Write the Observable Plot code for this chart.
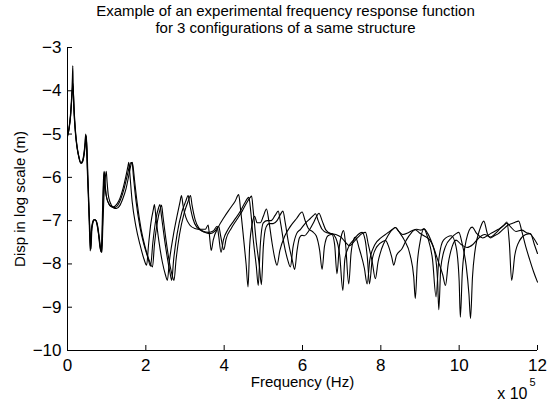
<!DOCTYPE html>
<html><head><meta charset="utf-8">
<script src="https://cdn.jsdelivr.net/npm/d3@7"></script>
<script src="https://cdn.jsdelivr.net/npm/@observablehq/plot@0.6"></script>
<style>body{margin:0;background:#fff;}</style>
</head><body><div id="chart"></div>
<script>
const titleLine1 = "Example of an experimental frequency response function";
const titleLine2 = "for 3 configurations of a same structure";
const xLabel = "Frequency (Hz)";
const yLabel = "Disp in log scale (m)";
const xMultiplier = "x 10";
const xExponent = "5";
const xTicks = [0, 2, 4, 6, 8, 10, 12];
const yTicks = [-10, -9, -8, -7, -6, -5, -4, -3];

// frequency in units of 10^5 Hz, displacement as log10 (m)
const freqA = [0.00,0.04,0.08,0.11,0.125,0.135,0.145,0.16,0.19,0.23,0.28,0.33,0.37,0.41,0.44,0.465,0.48,0.50,0.53,0.56,0.58,0.60,0.63,0.67,0.71,0.75,0.79,0.83,0.86,0.88,0.90,0.92,0.935,0.95,0.98,1.03,1.10,1.18,1.26,1.34,1.42,1.49,1.54,1.565,1.59,1.65,1.75,1.85,1.95,2.02,2.07,2.13,2.19,2.22,2.26,2.33,2.42,2.50,2.55,2.60,2.70,2.80,2.87,2.91,2.95,3.02,3.12,3.25,3.40,3.52,3.59,3.62,3.67,3.72,3.85,4.00,4.15,4.28,4.37,4.42,4.50,4.56,4.61,4.65,4.72,4.78,4.84,4.92,5.00,5.08,5.14,5.22,5.30,5.35,5.42,5.55,5.70,5.85,5.99,6.06,6.15,6.25,6.35,6.44,6.50,6.56,6.65,6.75,6.82,6.88,6.94,7.00,7.05,7.10,7.18,7.24,7.30,7.35,7.45,7.58,7.65,7.72,7.85,8.00,8.15,8.30,8.37,8.48,8.60,8.75,8.84,8.88,8.93,9.00,9.10,9.20,9.32,9.41,9.48,9.60,9.80,9.92,10.00,10.03,10.08,10.18,10.33,10.45,10.60,10.80,11.00,11.15,11.22,11.28,11.34,11.42,11.55,11.70,11.82,11.92,12.00];
const dispA = [-5.02,-4.85,-4.50,-4.05,-3.70,-3.42,-3.85,-4.35,-4.85,-5.22,-5.50,-5.66,-5.64,-5.50,-5.28,-5.00,-5.15,-5.70,-6.40,-7.20,-7.70,-7.30,-7.08,-6.98,-6.98,-7.08,-7.30,-7.62,-7.72,-7.30,-6.55,-6.02,-5.86,-6.10,-6.38,-6.56,-6.66,-6.68,-6.62,-6.48,-6.25,-5.98,-5.76,-5.65,-5.90,-6.55,-7.15,-7.55,-7.88,-8.03,-7.55,-7.05,-6.75,-6.63,-6.95,-7.45,-7.95,-8.25,-8.38,-7.95,-7.35,-6.88,-6.58,-6.42,-6.65,-6.92,-7.10,-7.18,-7.20,-7.20,-7.10,-7.30,-7.69,-7.45,-7.15,-6.92,-6.72,-6.55,-6.40,-6.75,-7.45,-8.00,-8.53,-7.60,-7.05,-6.90,-7.05,-7.05,-6.90,-6.73,-7.00,-7.50,-7.90,-8.03,-7.70,-7.35,-7.12,-6.95,-6.80,-6.98,-7.18,-7.25,-7.35,-7.70,-8.13,-7.60,-7.35,-7.32,-7.55,-8.23,-7.60,-7.32,-7.23,-7.55,-8.46,-7.75,-7.45,-7.38,-7.65,-8.10,-8.46,-7.90,-7.55,-7.40,-7.30,-7.20,-7.16,-7.28,-7.45,-7.80,-8.30,-8.80,-8.00,-7.50,-7.19,-7.40,-7.90,-8.76,-7.90,-7.45,-7.35,-7.60,-8.40,-9.23,-8.20,-7.45,-7.15,-7.30,-7.40,-7.30,-7.20,-7.10,-7.03,-7.50,-8.38,-7.80,-7.45,-7.32,-7.30,-7.55,-7.76];

const freqB = [0.00,0.04,0.08,0.11,0.13,0.14,0.155,0.17,0.20,0.24,0.29,0.34,0.38,0.42,0.45,0.47,0.49,0.51,0.54,0.57,0.59,0.61,0.64,0.68,0.72,0.76,0.80,0.84,0.87,0.89,0.91,0.925,0.94,0.96,0.99,1.04,1.12,1.20,1.28,1.36,1.44,1.52,1.58,1.62,1.65,1.68,1.75,1.85,1.95,2.05,2.12,2.18,2.26,2.32,2.36,2.40,2.48,2.56,2.62,2.66,2.71,2.80,2.92,3.02,3.08,3.12,3.20,3.30,3.45,3.60,3.72,3.82,3.86,3.92,3.98,4.10,4.25,4.40,4.52,4.60,4.63,4.68,4.75,4.82,4.87,4.92,5.00,5.10,5.20,5.30,5.38,5.44,5.52,5.62,5.69,5.76,5.85,5.95,6.08,6.20,6.28,6.33,6.40,6.50,6.62,6.75,6.85,6.95,7.03,7.08,7.18,7.30,7.42,7.52,7.60,7.66,7.71,7.78,7.90,8.05,8.12,8.20,8.28,8.33,8.40,8.54,8.65,8.78,8.88,8.98,9.10,9.25,9.38,9.45,9.48,9.53,9.65,9.80,9.92,9.99,10.08,10.18,10.25,10.29,10.34,10.42,10.52,10.63,10.72,10.80,10.90,11.00,11.10,11.25,11.40,11.52,11.60,11.70,11.80,11.90,12.00];
const dispB = [-5.05,-4.88,-4.55,-4.15,-3.90,-3.83,-4.15,-4.50,-4.92,-5.28,-5.52,-5.67,-5.64,-5.48,-5.22,-5.02,-5.25,-5.80,-6.55,-7.30,-7.68,-7.28,-7.06,-6.98,-6.99,-7.10,-7.35,-7.65,-7.73,-7.25,-6.50,-6.05,-5.88,-6.15,-6.42,-6.58,-6.68,-6.70,-6.65,-6.50,-6.28,-5.98,-5.75,-5.66,-5.66,-5.95,-6.55,-7.15,-7.55,-7.85,-8.05,-7.50,-6.95,-6.72,-6.63,-6.90,-7.45,-7.92,-8.22,-8.38,-7.90,-7.30,-6.80,-6.55,-6.42,-6.62,-6.95,-7.15,-7.24,-7.27,-7.24,-7.13,-7.35,-7.73,-7.45,-7.20,-7.00,-6.80,-6.60,-6.48,-6.46,-6.80,-7.50,-8.05,-8.50,-7.60,-7.05,-7.00,-7.00,-6.88,-6.78,-7.05,-7.50,-7.90,-8.07,-7.60,-7.30,-7.20,-7.05,-6.95,-6.88,-6.84,-7.00,-7.20,-7.28,-7.30,-7.40,-7.80,-8.61,-7.90,-7.60,-7.45,-7.32,-7.27,-7.45,-7.90,-8.46,-7.90,-7.60,-7.48,-7.46,-7.60,-7.85,-8.03,-7.80,-7.65,-7.45,-7.28,-7.21,-7.28,-7.35,-7.45,-7.75,-8.40,-9.06,-8.10,-7.60,-7.40,-7.30,-7.27,-7.55,-8.05,-8.70,-9.26,-8.30,-7.60,-7.22,-7.01,-7.30,-7.40,-7.35,-7.30,-7.22,-7.10,-7.05,-7.01,-7.25,-7.60,-7.90,-8.18,-8.42];

const freqC = [0.00,0.04,0.08,0.11,0.13,0.145,0.16,0.18,0.21,0.25,0.30,0.35,0.39,0.43,0.46,0.48,0.50,0.52,0.55,0.58,0.60,0.62,0.65,0.69,0.73,0.77,0.81,0.85,0.88,0.90,0.93,0.96,0.99,1.01,1.04,1.09,1.17,1.25,1.33,1.41,1.49,1.56,1.61,1.65,1.67,1.71,1.78,1.88,1.98,2.08,2.17,2.22,2.30,2.36,2.40,2.44,2.52,2.60,2.67,2.72,2.77,2.86,2.98,3.08,3.14,3.18,3.26,3.36,3.50,3.64,3.76,3.86,3.91,3.99,4.05,4.18,4.32,4.46,4.58,4.66,4.70,4.74,4.82,4.90,4.95,5.00,5.07,5.15,5.25,5.35,5.44,5.50,5.56,5.64,5.74,5.80,5.86,5.92,5.98,6.05,6.15,6.28,6.36,6.42,6.50,6.60,6.72,6.85,6.98,7.10,7.20,7.30,7.42,7.52,7.61,7.68,7.78,7.86,7.93,8.02,8.15,8.28,8.37,8.46,8.56,8.70,8.82,8.92,9.02,9.10,9.20,9.32,9.45,9.58,9.65,9.72,9.82,9.92,10.05,10.20,10.35,10.50,10.65,10.80,10.92,11.05,11.15,11.22,11.32,11.45,11.60,11.72,11.80,11.90,12.00];
const dispC = [-5.05,-4.88,-4.58,-4.18,-3.95,-3.90,-4.25,-4.60,-5.00,-5.32,-5.56,-5.68,-5.63,-5.45,-5.20,-5.05,-5.35,-5.95,-6.70,-7.40,-7.66,-7.25,-7.05,-6.98,-7.00,-7.12,-7.38,-7.66,-7.73,-7.20,-6.45,-6.05,-5.86,-6.10,-6.40,-6.58,-6.70,-6.72,-6.66,-6.50,-6.28,-5.98,-5.75,-5.65,-5.72,-6.05,-6.60,-7.20,-7.60,-7.90,-8.07,-7.55,-7.00,-6.75,-6.64,-6.92,-7.48,-7.95,-8.25,-8.38,-7.92,-7.32,-6.82,-6.55,-6.42,-6.64,-6.98,-7.18,-7.27,-7.30,-7.25,-7.13,-7.35,-7.67,-7.42,-7.18,-6.98,-6.78,-6.58,-6.47,-6.43,-6.75,-7.50,-8.05,-8.48,-7.60,-7.15,-7.07,-7.07,-7.00,-6.85,-6.78,-7.05,-7.50,-7.92,-8.13,-7.70,-7.40,-7.34,-7.35,-7.25,-7.05,-6.90,-6.83,-7.00,-7.22,-7.30,-7.32,-7.38,-7.50,-7.58,-7.50,-7.38,-7.30,-7.27,-7.55,-7.95,-8.34,-7.95,-7.65,-7.40,-7.22,-7.16,-7.25,-7.32,-7.28,-7.22,-7.20,-7.22,-7.19,-7.30,-7.55,-7.90,-8.25,-8.50,-8.00,-7.60,-7.45,-7.55,-7.62,-7.55,-7.40,-7.32,-7.38,-7.30,-7.18,-7.10,-7.06,-7.15,-7.25,-7.22,-7.28,-7.30,-7.40,-7.55];

const series = [
  {config: "Configuration 1", freq: freqA, disp: dispA},
  {config: "Configuration 2", freq: freqB, disp: dispB},
  {config: "Configuration 3", freq: freqC, disp: dispC}
];
const rows = series.flatMap(s => s.freq.map((f, i) => ({config: s.config, freq: f, disp: s.disp[i]})));

const font = "'Liberation Sans', Arial, Helvetica, sans-serif";
const fmt = d3.format("d");
const chart = Plot.plot({
  width: 547,
  height: 403,
  marginTop: 47,
  marginBottom: 53,
  marginLeft: 67,
  marginRight: 10,
  style: {fontFamily: font, fontSize: "17px", color: "#000", background: "#fff"},
  x: {domain: [0, 12]},
  y: {domain: [-10, -3]},
  marks: [
    Plot.line(rows, {x: "freq", y: "disp", z: "config", stroke: "#000", strokeWidth: 1.1, curve: "monotone-x"}),
    Plot.ruleX([0], {stroke: "#000"}),
    Plot.ruleY([-10], {stroke: "#000"}),
    Plot.axisX({ticks: xTicks, tickSize: -5, text: null, label: null, stroke: "#000"}),
    Plot.axisY({ticks: yTicks, tickSize: -5, text: null, label: null, stroke: "#000"}),
    Plot.axisX({ticks: xTicks, tickSize: 0, tickPadding: 8, tickFormat: fmt, label: null, fontSize: 17, fill: "#000"}),
    Plot.axisY({ticks: yTicks, tickSize: 0, tickPadding: 6, tickFormat: fmt, label: null, fontSize: 17, fill: "#000"}),
    Plot.text([xLabel], {frameAnchor: "bottom", lineAnchor: "middle", dy: 32, fontSize: 15, fill: "#000"}),
    Plot.text([yLabel], {frameAnchor: "left", lineAnchor: "middle", textAnchor: "middle", dx: -47, rotate: -90, fontSize: 15, fill: "#000"}),
    Plot.text([titleLine1], {frameAnchor: "top", lineAnchor: "middle", dx: -17, dy: -36, fontSize: 15, fill: "#000"}),
    Plot.text([titleLine2], {frameAnchor: "top", lineAnchor: "middle", dx: -17, dy: -19, fontSize: 15, fill: "#000"}),
    Plot.text([xMultiplier], {frameAnchor: "bottom-right", lineAnchor: "middle", textAnchor: "end", dx: -10, dy: 43, fontSize: 16, fill: "#000"}),
    Plot.text([xExponent], {frameAnchor: "bottom-right", lineAnchor: "middle", textAnchor: "start", dx: -8, dy: 32, fontSize: 11, fill: "#000"})
  ]
});
document.getElementById("chart").appendChild(chart);
</script>
</body></html>
